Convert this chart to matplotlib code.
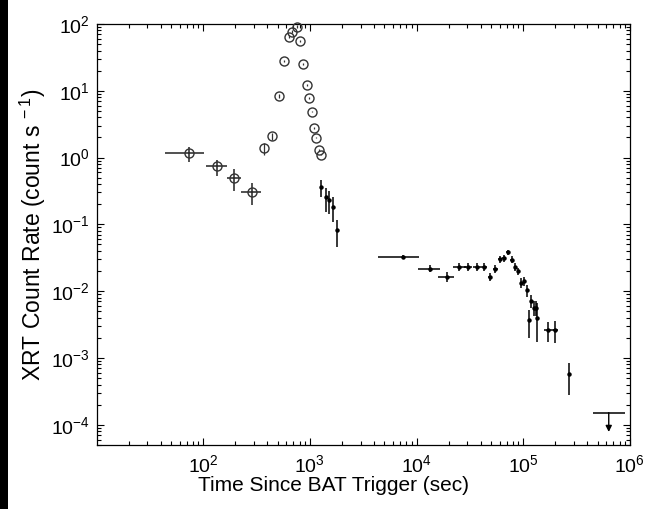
import matplotlib
matplotlib.use("Agg")
import matplotlib.pyplot as plt
from matplotlib.patches import Rectangle
from matplotlib.ticker import LogLocator, NullFormatter, FuncFormatter
import numpy as np

plt.rcParams['font.family'] = ['Liberation Sans', 'DejaVu Sans']
plt.rcParams['mathtext.fontset'] = 'custom'
plt.rcParams['mathtext.rm'] = 'Liberation Sans'
plt.rcParams['mathtext.it'] = 'Liberation Sans:italic'
plt.rcParams['mathtext.bf'] = 'Liberation Sans:bold'

# ---- early points with error bars: open circles ----
early_t = [74, 135, 194, 284]
early_t_lo = [44, 107, 167, 226]
early_t_hi = [102, 168, 226, 345]
early_r = [1.18, 0.741, 0.49, 0.305]
early_r_lo = [0.87, 0.53, 0.319, 0.195]
early_r_hi = [1.46, 0.92, 0.675, 0.417]

# ---- flare points: open circles ----
flare_t = [374, 442, 509, 576, 638, 685, 759, 810, 869, 933, 989, 1040, 1102, 1151, 1210, 1262]
flare_r = [1.38, 2.08, 8.36, 27.9, 64.6, 76.7, 91.0, 55.7, 24.9, 12.2, 7.72, 4.87, 2.75, 1.99, 1.30, 1.10]
flare_r_lo = [1.09, 1.85, 7.8, 26.5, 61.0, 73.0, 87.0, 53.5, 24.0, 11.8, 7.5, 4.75, 2.68, 1.94, 1.27, 1.08]
flare_r_hi = [1.64, 2.33, 8.95, 29.3, 68.0, 80.5, 95.0, 58.0, 25.8, 12.6, 7.95, 5.0, 2.82, 2.04, 1.33, 1.12]

# ---- later points: small filled markers ----
late_t = [1282, 1407, 1507, 1637, 1812,
          7390, 13240, 19140, 24950, 30300, 36800, 42800, 48700, 54600,
          60500, 65900, 71900, 78500, 84500, 90200, 96400, 101500, 107900,
          113000, 119600, 125000, 131000, 136000, 171000, 197000, 270000]
late_t_lo = [1255, 1380, 1480, 1610, 1780,
             4365, 10280, 15850, 21900, 28000, 34000, 40000, 46500, 52000,
             58000, 63500, 69500, 76000, 82000, 88000, 94000, 99500, 105500,
             111000, 117500, 123000, 129000, 134000, 155600, 190000, 262000]
late_t_hi = [1310, 1435, 1535, 1665, 1845,
             10510, 16550, 22400, 28850, 32800, 40000, 46000, 51500, 57500,
             63000, 68500, 74500, 81000, 87000, 92500, 99000, 104000, 110500,
             115000, 122000, 127500, 133000, 139000, 193000, 211000, 281000]
late_r = [0.366, 0.255, 0.232, 0.182, 0.081,
          0.0328, 0.0215, 0.0165, 0.0230, 0.0230, 0.0233, 0.0230, 0.0163, 0.0215,
          0.0303, 0.0311, 0.0380, 0.0297, 0.0230, 0.0197, 0.0131, 0.0140, 0.0103,
          0.00371, 0.00701, 0.00555, 0.00555, 0.00393, 0.00262, 0.00262, 0.000575]
late_r_lo = [0.260, 0.155, 0.143, 0.109, 0.0454,
             0.0305, 0.0193, 0.0136, 0.0200, 0.0200, 0.0203, 0.0203, 0.0140, 0.0188,
             0.0268, 0.0277, 0.0342, 0.0265, 0.0203, 0.0172, 0.0110, 0.0118, 0.0083,
             0.00197, 0.0055, 0.0042, 0.0042, 0.00175, 0.00175, 0.00168, 0.000279]
late_r_hi = [0.462, 0.351, 0.316, 0.257, 0.118,
             0.0352, 0.0245, 0.0193, 0.0262, 0.0262, 0.0266, 0.0262, 0.0188, 0.0245,
             0.0340, 0.0350, 0.0420, 0.0332, 0.0262, 0.0225, 0.0155, 0.0165, 0.0125,
             0.00523, 0.0088, 0.0071, 0.0071, 0.00665, 0.00349, 0.00355, 0.000851]

# ---- upper limit ----
ul_t = [634000]
ul_t_lo = [450000]
ul_t_hi = [897000]
ul_r = [0.000152]
ul_arrow_to = [7.8e-5]

x_major = [1e2, 1e3, 1e4, 1e5, 1e6]
y_major = [1e-4, 1e-3, 1e-2, 1e-1, 1e0, 1e1, 1e2]

fig = plt.figure(figsize=(6.48, 5.09), dpi=100)
ax = fig.add_axes([0.149, 0.126, 0.823, 0.827])

def asym(v, lo, hi):
    v = np.array(v); lo = np.array(lo); hi = np.array(hi)
    return [v - lo, hi - v]

# early points
ax.errorbar(early_t, early_r, xerr=asym(early_t, early_t_lo, early_t_hi),
            yerr=asym(early_r, early_r_lo, early_r_hi), fmt='none',
            ecolor='#222222', elinewidth=1.1, capsize=0, zorder=2)
ax.plot(early_t, early_r, 'o', ms=6.5, mfc='none', mec='#333333', mew=1.0, zorder=3)

# flare
ax.errorbar(flare_t, flare_r, yerr=asym(flare_r, flare_r_lo, flare_r_hi), fmt='none',
            ecolor='#333333', elinewidth=0.9, capsize=0, zorder=2)
ax.plot(flare_t, flare_r, 'o', ms=6.5, mfc='none', mec='#333333', mew=1.0, zorder=3,
        clip_on=False)

# late
ax.errorbar(late_t, late_r, xerr=asym(late_t, late_t_lo, late_t_hi),
            yerr=asym(late_r, late_r_lo, late_r_hi), fmt='o', ms=2.2,
            color='black', ecolor='black', elinewidth=1.1, capsize=0, zorder=3)

# upper limit
ax.errorbar(ul_t, ul_r, xerr=asym(ul_t, ul_t_lo, ul_t_hi), fmt='none',
            ecolor='black', elinewidth=1.1, capsize=0)
for t, r, a in zip(ul_t, ul_r, ul_arrow_to):
    ax.annotate('', xy=(t, a), xytext=(t, r),
                arrowprops=dict(arrowstyle='-|>', color='black', lw=1.0,
                                mutation_scale=9, shrinkA=0, shrinkB=0))

ax.set_xscale('log')
ax.set_yscale('log')

ax.set_xticks(x_major)
ax.set_yticks(y_major)
ax.xaxis.set_minor_locator(LogLocator(base=10, subs=np.arange(2, 10), numticks=20))
ax.yaxis.set_minor_locator(LogLocator(base=10, subs=np.arange(2, 10), numticks=20))
ax.xaxis.set_minor_formatter(NullFormatter())
ax.yaxis.set_minor_formatter(NullFormatter())

def powfmt(v, pos):
    e = int(round(np.log10(v)))
    return r'$\mathregular{10^{%d}}$' % e if e >= 0 else r'$\mathregular{10^{-%d}}$' % (-e)
ax.xaxis.set_major_formatter(FuncFormatter(powfmt))
ax.yaxis.set_major_formatter(FuncFormatter(powfmt))
ax.set_xlim(10, 1e6)
ax.set_ylim(5e-5, 100)

ax.tick_params(which='both', direction='in', top=True, right=True, labelsize=14, width=0.8)
ax.tick_params(which='major', length=5)
ax.tick_params(which='minor', length=3)
ax.tick_params(axis='x', pad=7)
ax.tick_params(axis='y', pad=5)
for s in ax.spines.values():
    s.set_linewidth(0.9)

ax.set_xlabel('Time Since BAT Trigger (sec)', fontsize=15, labelpad=0)
ax.xaxis.set_label_coords(0.445, -0.075)
ax.set_ylabel(r'XRT Count Rate (count s$^{\mathregular{\ -1}}$)', fontsize=16.5, labelpad=2)

fig.patches.append(Rectangle((0, 0), 8 / 648, 1, transform=fig.transFigure,
                             facecolor='black', edgecolor='none', zorder=10))

fig.savefig('out.png', dpi=100)
